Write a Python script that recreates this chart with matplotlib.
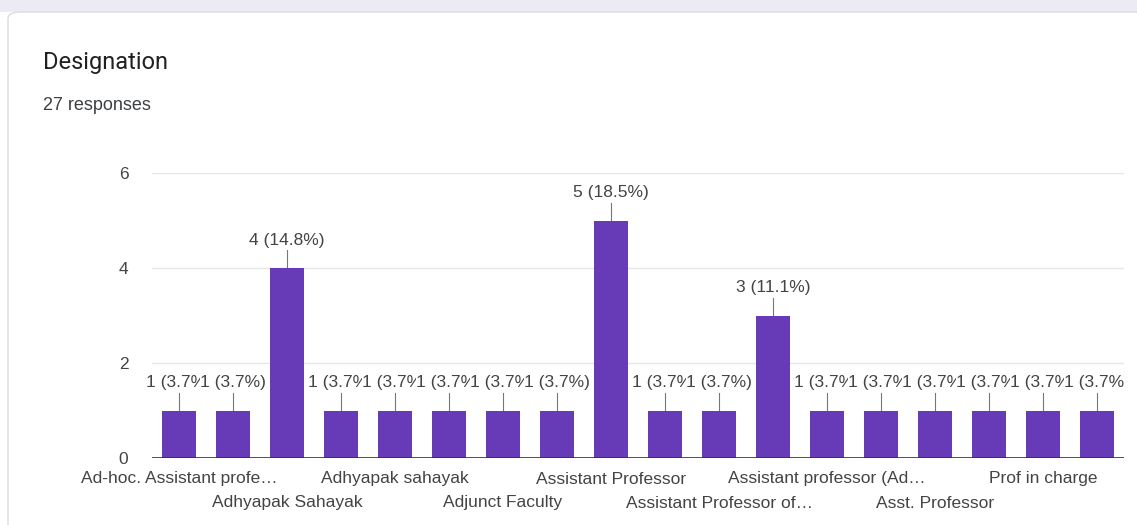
import matplotlib
matplotlib.use("Agg")
import matplotlib.pyplot as plt
from matplotlib.patches import FancyBboxPatch, Rectangle
import numpy as np

# data (only every other category name is visible)
labels = ["Ad-hoc. Assistant profe…", "", "Adhyapak Sahayak", "", "Adhyapak sahayak", "",
          "Adjunct Faculty", "", "Assistant Professor", "", "Assistant Professor of…", "",
          "Assistant professor (Ad…", "", "Asst. Professor", "", "Prof in charge", ""]
counts = [1, 1, 4, 1, 1, 1, 1, 1, 5, 1, 1, 3, 1, 1, 1, 1, 1, 1]
total = 27
yticks = [0, 2, 4, 6]

purple = "#673ab7"
txt = "#444444"

W, H = 1137, 525
fig = plt.figure(figsize=(W / 100, H / 100), dpi=100)
fig.patch.set_facecolor("white")

# top strip and card outline
fig.patches.append(Rectangle((0, 1 - 12 / H), 1, 12 / H, transform=fig.transFigure,
                             facecolor="#ecebf3", edgecolor="none", zorder=-2))
fig.patches.append(FancyBboxPatch((8 / W, -0.05), 1.2, 1 - 12 / H + 0.05,
                                  boxstyle="round,pad=0,rounding_size=0.012",
                                  transform=fig.transFigure, facecolor="white",
                                  edgecolor="#dadce0", lw=1, zorder=-1))

fig.text(43 / W, 1 - 63 / H, "Designation", fontsize=17, color="#202124",
         family="Roboto", va="center", ha="left")
fig.text(43 / W, 1 - 106 / H, "27 responses", fontsize=13, color="#3c4043",
         family="Liberation Sans", va="center", ha="left")

ax = fig.add_axes([152 / W, 1 - 458 / H, 972 / W, 285 / H])
ax.set_zorder(3)
ax.set_facecolor("none")
x = np.arange(len(counts))
ax.bar(x, counts, width=0.63, color=purple, zorder=3)
ax.set_xlim(-0.5, len(counts) - 0.5)
ax.set_ylim(0, 6)
ax.set_yticks(yticks)
ax.set_yticklabels([str(t) for t in yticks])
for t in yticks[1:]:
    ax.axhline(t, color="#e6e6e6", lw=1, zorder=1)
ax.axhline(0, color="#333333", lw=1.2, zorder=4)
for s in ax.spines.values():
    s.set_visible(False)
ax.tick_params(axis="y", length=0, pad=17, labelsize=12.5, labelcolor=txt)
ax.tick_params(axis="x", length=0, labelcolor=txt)
for lab in ax.get_yticklabels():
    lab.set_family("Liberation Sans")

# alternate category labels on two rows
ax.set_xticks(x)
ax.set_xticklabels([""] * len(x))
for i, lab in enumerate(labels):
    if not lab:
        continue
    row = (i // 2) % 2
    ax.annotate(lab, xy=(i, 0), xytext=(0, -21 - 24 * row), textcoords="offset pixels",
                ha="center", va="center", fontsize=12.5, color=txt,
                family="Liberation Sans", annotation_clip=False)

# value labels with leader lines, cut off only at the right edge of the plot
clip = Rectangle((0, 0), 1124 / W, 1, transform=fig.transFigure)
ppu = 285 / 6  # pixels per unit
for i, c in enumerate(counts):
    top = c
    ax.plot([i, i], [top, top + 18 / ppu], color="#777777", lw=0.8, zorder=2)
    t = ax.text(i, top + 28 / ppu, f"{c} ({100 * c / total:.1f}%)", ha="center",
                va="center", fontsize=12.5, color=txt, family="Liberation Sans",
                zorder=5, bbox=dict(facecolor="white", edgecolor="none", pad=0.3))
    t.set_clip_on(True)
    t.set_clip_box(None)
    t.set_clip_path(clip)

fig.savefig("out.png", dpi=100)
